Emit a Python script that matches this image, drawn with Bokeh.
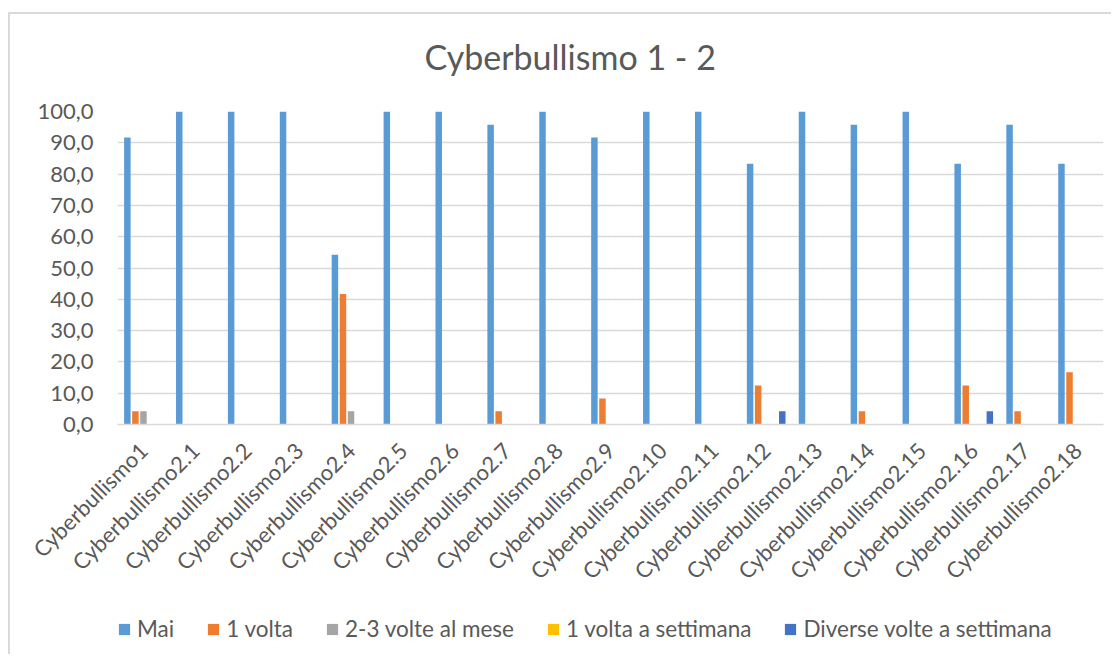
from bokeh.plotting import figure
from bokeh.layouts import column
from bokeh.models import (ColumnDataSource, FactorRange, Legend, LegendItem,
                          CustomJSTickFormatter, FixedTicker, Label)
from bokeh.transform import dodge
from bokeh.embed import file_html
from bokeh.resources import INLINE

title_text = "Cyberbullismo 1 - 2"
categories = ["Cyberbullismo1"] + ["Cyberbullismo2.%d" % i for i in range(1, 19)]

mai = [91.7, 100.0, 100.0, 100.0, 54.2, 100.0, 100.0, 95.8, 100.0, 91.7,
       100.0, 100.0, 83.3, 100.0, 95.8, 100.0, 83.3, 95.8, 83.3]
una_volta = [4.2, 0, 0, 0, 41.7, 0, 0, 4.2, 0, 8.3,
             0, 0, 12.5, 0, 4.2, 0, 12.5, 4.2, 16.7]
due_tre_mese = [4.2, 0, 0, 0, 4.2, 0, 0, 0, 0, 0,
                0, 0, 0, 0, 0, 0, 0, 0, 0]
una_settimana = [0] * 19
diverse_settimana = [0, 0, 0, 0, 0, 0, 0, 0, 0, 0,
                     0, 0, 4.2, 0, 0, 0, 4.2, 0, 0]

series_names = ["Mai", "1 volta", "2-3 volte al mese", "1 volta a settimana",
                "Diverse volte a settimana"]
series_keys = ["mai", "v1", "v23", "vs1", "vds"]
colors = ["#5B9BD5", "#ED7D31", "#A5A5A5", "#FFC000", "#4472C4"]
offsets = [-0.31, -0.155, 0.0, 0.155, 0.31]

source = ColumnDataSource(data=dict(cat=categories, mai=mai, v1=una_volta,
                                    v23=due_tre_mese, vs1=una_settimana,
                                    vds=diverse_settimana))

FONT = "Lato"
TXT = "#595959"

# title strip
t = figure(x_range=(0, 1), y_range=(0, 1), width=1101, height=80, title=None,
           output_backend="svg", toolbar_location=None,
           x_axis_location=None, y_axis_location=None, min_border=0)
t.grid.visible = False
t.outline_line_color = None
t.add_layout(Label(x=307, y=38, x_units="screen", y_units="screen",
                   text=title_text, text_font=FONT, text_font_size="34px",
                   text_color=TXT, text_baseline="middle", text_align="left"))

p = figure(x_range=FactorRange(*categories, range_padding=0), y_range=(0, 100),
           width=1101, height=502, title=None, output_backend="svg",
           toolbar_location=None, min_border_left=107, min_border_right=8,
           min_border_top=17, min_border_bottom=172)

for key, col, off in zip(series_keys, colors, offsets):
    p.vbar(x=dodge("cat", off, range=p.x_range), top=key, width=0.125,
           source=source, fill_color=col, line_color=None)

p.outline_line_color = None
p.xgrid.grid_line_color = None
p.ygrid.grid_line_color = "#D9D9D9"
p.ygrid.grid_line_width = 1.3

p.yaxis.ticker = FixedTicker(ticks=list(range(0, 101, 10)))
p.yaxis.formatter = CustomJSTickFormatter(code="return tick.toFixed(1).replace('.', ',');")
p.yaxis.axis_line_color = None
p.yaxis.major_tick_line_color = None
p.yaxis.minor_tick_line_color = None
p.yaxis.major_label_text_font = FONT
p.yaxis.major_label_text_font_size = "22px"
p.yaxis.major_label_text_color = TXT
p.yaxis.major_label_standoff = 18

p.xaxis.axis_line_color = "#D9D9D9"
p.xaxis.axis_line_width = 1.3
p.xaxis.major_tick_line_color = None
p.xaxis.minor_tick_line_color = None
p.xaxis.major_label_orientation = 0.785398
p.xaxis.major_label_text_font = FONT
p.xaxis.major_label_text_font_size = "22px"
p.xaxis.major_label_text_color = TXT
p.xaxis.major_label_standoff = 16

# legend strip: same bars, drawn out of view, only their legend shows
q = figure(x_range=FactorRange(*categories, range_padding=0), y_range=(1000, 1001),
           width=1101, height=58, title=None, output_backend="svg",
           toolbar_location=None, x_axis_location=None, y_axis_location=None,
           min_border=0)
q.grid.visible = False
q.outline_line_color = None
items = []
for key, name, col, off in zip(series_keys, series_names, colors, offsets):
    r = q.vbar(x=dodge("cat", off, range=q.x_range), top=key, width=0.125,
               source=source, fill_color=col, line_color=None)
    items.append(LegendItem(label=name, renderers=[r]))
legend = Legend(items=items, orientation="horizontal", location=(0, 12),
                label_text_font=FONT, label_text_font_size="22.5px",
                label_text_color=TXT, glyph_width=14, glyph_height=14,
                spacing=32, label_standoff=6, border_line_color=None,
                background_fill_alpha=0, padding=0, margin=0)
q.add_layout(legend)

layout = column(t, p, q, spacing=0, margin=(12, 0, 0, 8),
                styles={"border-left": "2px solid #D9D9D9",
                        "border-top": "2px solid #D9D9D9"})

open("out.html", "w").write(file_html(layout, INLINE))
